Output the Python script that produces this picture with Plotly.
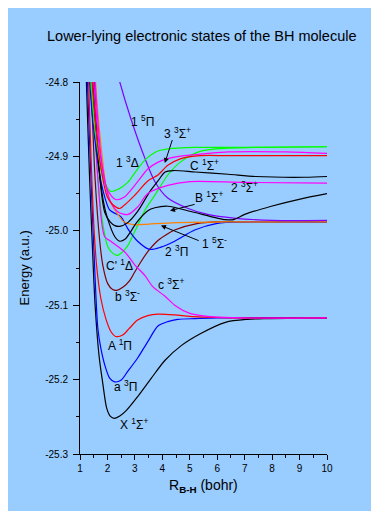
import plotly.graph_objects as go

# ---- data (R in bohr, E in hartree) ----
X_R = [1.15, 1.25, 1.35, 1.45, 1.55, 1.7, 1.83, 1.97, 2.1, 2.26, 2.45, 2.7, 3.1, 3.6, 4.1, 4.7, 5.4, 6.3, 7.1, 7.8, 10]
X_E = [-24.70, -24.82, -24.93, -25.02, -25.10, -25.17, -25.205, -25.238, -25.249, -25.252, -25.249, -25.241, -25.223, -25.198, -25.174, -25.154, -25.138, -25.123, -25.119, -25.118, -25.117]

a3Pi_R = [1.2, 1.3, 1.4, 1.5, 1.65, 1.76, 1.94, 2.08, 2.26, 2.49, 2.74, 3.1, 3.47, 3.84, 4.2, 4.56, 5.2, 6.0, 10]
a3Pi_E = [-24.72, -24.83, -24.93, -25.02, -25.131, -25.158, -25.185, -25.198, -25.203, -25.201, -25.189, -25.171, -25.149, -25.128, -25.122, -25.119, -25.118, -25.117, -25.117]

A1Pi_R = [1.25, 1.3, 1.4, 1.5, 1.6, 1.76, 1.94, 2.12, 2.3, 2.56, 2.8, 3.1, 3.47, 3.84, 4.45, 5.0, 5.6, 6.5, 10]
A1Pi_E = [-24.72, -24.78, -24.90, -24.99, -25.045, -25.091, -25.118, -25.135, -25.142, -25.140, -25.131, -25.120, -25.114, -25.112, -25.113, -25.115, -25.116, -25.117, -25.117]

b3Sm_R = [1.3, 1.42, 1.55, 1.72, 1.83, 2.01, 2.19, 2.34, 2.56, 2.81, 3.0, 3.18, 3.47, 3.84, 4.2, 4.45, 5.3, 6.0, 7.0, 10]
b3Sm_E = [-24.72, -24.82, -24.93, -25.014, -25.046, -25.071, -25.079, -25.080, -25.076, -25.067, -25.055, -25.044, -25.028, -25.013, -25.004, -24.999, -24.990, -24.988, -24.988, -24.988]

Cp1D_R = [1.35, 1.5, 1.7, 1.85, 2.01, 2.19, 2.37, 2.56, 2.74, 2.93, 3.1, 3.4, 3.73, 4.2, 4.68, 5.4, 6.4, 10]
Cp1D_E = [-24.72, -24.84, -24.95, -24.995, -25.021, -25.030, -25.033, -25.028, -25.020, -25.006, -24.993, -24.970, -24.952, -24.925, -24.907, -24.893, -24.889, -24.887]

c3Sp_R = [1.4, 1.5, 1.65, 1.9, 2.12, 2.38, 2.67, 3.0, 3.36, 3.65, 4.1, 4.45, 5.0, 5.65, 6.9, 10]
c3Sp_E = [-24.73, -24.82, -24.93, -25.008, -25.014, -25.021, -25.030, -25.046, -25.060, -25.075, -25.088, -25.100, -25.111, -25.115, -25.117, -25.117]

P2_3Pi_R = [1.25, 1.35, 1.55, 1.8, 2.08, 2.3, 2.49, 2.74, 3.1, 3.54, 3.95, 4.45, 5.18, 6.0, 7.0, 10]
P2_3Pi_E = [-24.72, -24.80, -24.88, -24.94, -24.972, -24.977, -24.981, -24.997, -25.014, -25.025, -25.022, -25.014, -24.999, -24.990, -24.988, -24.988]

Q1_5Sm_R = [1.5, 1.57, 1.75, 1.95, 2.12, 2.38, 2.6, 3.0, 3.5, 4.5, 6.4, 10]
Q1_5Sm_E = [-24.72, -24.80, -24.88, -24.94, -24.962, -24.978, -24.988, -24.992, -24.991, -24.989, -24.988, -24.988]

Q1_5Pi_R = [2.35, 2.45, 2.86, 3.37, 3.73, 4.2, 4.94, 5.65, 6.6, 8.0, 10]
Q1_5Pi_E = [-24.785, -24.80, -24.850, -24.903, -24.934, -24.956, -24.970, -24.978, -24.983, -24.986, -24.986]

B1Sp_R = [1.35, 1.46, 1.65, 1.85, 2.0, 2.27, 2.45, 2.65, 2.85, 3.04, 3.47, 3.73, 4.2, 5.04, 5.9, 6.3, 6.6, 7.0, 7.97, 9.06, 10]
B1Sp_E = [-24.72, -24.80, -24.90, -24.96, -24.983, -25.008, -25.014, -25.011, -25.001, -24.990, -24.973, -24.969, -24.967, -24.974, -24.982, -24.985, -24.985, -24.978, -24.967, -24.957, -24.950]

C1Sp_R = [1.4, 1.52, 1.7, 1.9, 2.1, 2.27, 2.45, 2.74, 3.1, 3.55, 3.84, 4.1, 4.4, 5.2, 6.4, 7.4, 9.2, 10]
C1Sp_E = [-24.72, -24.80, -24.92, -24.975, -24.988, -24.993, -24.994, -24.989, -24.974, -24.947, -24.933, -24.921, -24.919, -24.921, -24.924, -24.927, -24.928, -24.927]

D1_3D_R = [1.3, 1.4, 1.6, 1.85, 2.12, 2.4, 2.74, 3.0, 3.36, 3.76, 4.2, 5.18, 6.4, 10]
D1_3D_E = [-24.72, -24.80, -24.88, -24.93, -24.947, -24.944, -24.935, -24.922, -24.905, -24.894, -24.890, -24.888, -24.888, -24.887]

S3_3Sp_R = [1.4, 1.5, 1.75, 2.0, 2.3, 2.6, 3.1, 3.47, 3.83, 4.2, 4.8, 5.65, 6.4, 8.5, 10]
S3_3Sp_E = [-24.72, -24.80, -24.90, -24.945, -24.958, -24.955, -24.934, -24.917, -24.908, -24.903, -24.899, -24.896, -24.894, -24.894, -24.896]

S2_3Sp_R = [1.45, 1.55, 1.8, 2.1, 2.4, 2.75, 3.1, 3.47, 4.2, 5.0, 7.0, 10]
S2_3Sp_E = [-24.72, -24.80, -24.91, -24.96, -24.975, -24.978, -24.968, -24.950, -24.939, -24.934, -24.935, -24.936]

P2_1Pi_R = [1.35, 1.45, 1.7, 2.0, 2.2, 2.45, 2.6, 3.0, 3.47, 3.84, 4.2, 4.68, 5.4, 6.4, 10]
P2_1Pi_E = [-24.72, -24.80, -24.90, -24.955, -24.965, -24.970, -24.966, -24.952, -24.933, -24.925, -24.912, -24.903, -24.899, -24.899, -24.899]

Y_TICKS = [-25.3, -25.2, -25.1, -25.0, -24.9, -24.8]
Y_TICK_TEXT = ["-25.3", "-25.2", "-25.1", "-25.0", "-24.9", "-24.8"]

curves = [
    (X_R, X_E, "#000000"),
    (a3Pi_R, a3Pi_E, "#0000ff"),
    (A1Pi_R, A1Pi_E, "#ff0000"),
    (b3Sm_R, b3Sm_E, "#800000"),
    (Cp1D_R, Cp1D_E, "#00ff00"),
    (c3Sp_R, c3Sp_E, "#ff00ff"),
    (P2_3Pi_R, P2_3Pi_E, "#0000ff"),
    (Q1_5Sm_R, Q1_5Sm_E, "#ff8000"),
    (Q1_5Pi_R, Q1_5Pi_E, "#8000ff"),
    (B1Sp_R, B1Sp_E, "#000000"),
    (C1Sp_R, C1Sp_E, "#000000"),
    (D1_3D_R, D1_3D_E, "#00ff00"),
    (S3_3Sp_R, S3_3Sp_E, "#ff00ff"),
    (S2_3Sp_R, S2_3Sp_E, "#ff00ff"),
    (P2_1Pi_R, P2_1Pi_E, "#ff0000"),
]

labels = [
    ("1 <sup>5</sup>Π", 3.29, -24.853),
    ("3 <sup>3</sup>Σ<sup>+</sup>", 4.57, -24.868),
    ("1 <sup>3</sup>Δ", 2.74, -24.907),
    ("C <sup>1</sup>Σ<sup>+</sup>", 5.52, -24.912),
    ("2 <sup>3</sup>Σ<sup>+</sup>", 6.98, -24.941),
    ("B <sup>1</sup>Σ<sup>+</sup>", 5.70, -24.954),
    ("1 <sup>5</sup>Σ<sup>-</sup>", 5.89, -25.016),
    ("2 <sup>3</sup>Π", 4.50, -25.027),
    ("C' <sup>1</sup>Δ", 2.45, -25.046),
    ("c <sup>3</sup>Σ<sup>+</sup>", 4.31, -25.072),
    ("b <sup>3</sup>Σ<sup>-</sup>", 2.74, -25.087),
    ("A <sup>1</sup>Π", 2.45, -25.153),
    ("a <sup>3</sup>Π", 2.67, -25.209),
    ("X <sup>1</sup>Σ<sup>+</sup>", 2.96, -25.260),
]

arrows = [  # (head x, head y, tail x, tail y)
    (4.09, -24.909, 4.38, -24.876),
    (4.28, -24.973, 5.23, -24.964),
    (3.95, -24.993, 5.38, -25.014),
]

fig = go.Figure()
for r, e, c in curves:
    fig.add_trace(go.Scatter(x=r, y=e, mode="lines", line=dict(color=c, width=1.2, shape="spline", smoothing=0.8),
                             hoverinfo="skip", showlegend=False))

FONT = "Arial, Liberation Sans, sans-serif"
ann = []
for t, x, y in labels:
    ann.append(dict(text=t, x=x, y=y, xref="x", yref="y", showarrow=False,
                    font=dict(family=FONT, size=12, color="black")))
for hx, hy, tx, ty in arrows:
    ann.append(dict(text="", x=hx, y=hy, ax=tx, ay=ty, xref="x", yref="y", axref="x", ayref="y",
                    showarrow=True, arrowhead=2, arrowsize=1, arrowwidth=1, arrowcolor="black"))
ann.append(dict(text="Energy (a.u.)", textangle=-90, x=-0.225, y=0.5, xref="paper", yref="paper",
                xanchor="center", yanchor="middle",
                showarrow=False, font=dict(family=FONT, size=13, color="black")))
ann.append(dict(text="R<sub><b>B-H</b></sub> (bohr)", x=0.5, y=-0.085, xref="paper", yref="paper",
                xanchor="center", yanchor="middle", showarrow=False,
                font=dict(family=FONT, size=14, color="black")))
ann.append(dict(text="Lower-lying electronic states of the BH molecule", x=(193 - 72) / 247,
                y=1 + (73.7 - 28) / 372, xref="paper", yref="paper", xanchor="center", yanchor="middle",
                showarrow=False, font=dict(family=FONT, size=14.5, color="black")))

fig.update_layout(
    width=379, height=511,
    margin=dict(l=72, r=60, t=74, b=65),
    paper_bgcolor="#99ccff", plot_bgcolor="#99ccff",
    annotations=ann,
    showlegend=False,
)
fig.update_xaxes(range=[1, 10], dtick=1, tick0=1, showline=True, linecolor="black", linewidth=1,
                 ticks="outside", ticklen=5, tickcolor="black", showgrid=False, zeroline=False,
                 tickfont=dict(family=FONT, size=10, color="black"),
                 minor=dict(dtick=0.5, ticks="outside", ticklen=3, tickcolor="black"))
fig.update_yaxes(range=[-25.3, -24.8], tickvals=Y_TICKS, ticktext=Y_TICK_TEXT, showline=True,
                 linecolor="black", linewidth=1, ticks="outside", ticklen=6, tickcolor="black",
                 ticklabelstandoff=3,
                 showgrid=False, zeroline=False, tickfont=dict(family=FONT, size=10, color="black"),
                 minor=dict(dtick=0.05, tick0=-25.3, ticks="outside", ticklen=3, tickcolor="black"))

fig.write_html("out.html")
